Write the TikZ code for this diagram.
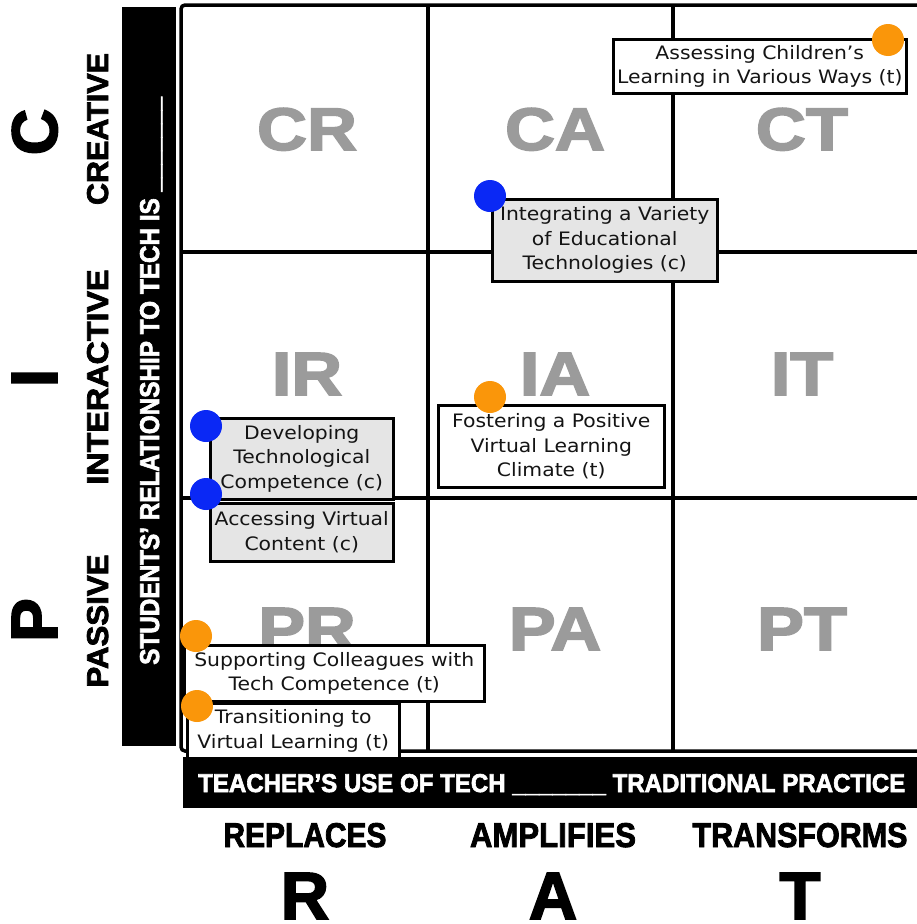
\documentclass[tikz,border=0pt]{standalone}
\usepackage{graphicx}
\usepackage{fontspec}
\setmainfont{DejaVu Sans}[FakeStretch=1.1]
\newfontfamily\hdfont{Liberation Sans}[BoldFeatures={FakeBold=2.5}]

\definecolor{cellgray}{RGB}{155,155,155}
\definecolor{boxgray}{RGB}{229,229,229}
\definecolor{txtdark}{RGB}{20,20,20}
\definecolor{dotblue}{RGB}{10,40,245}
\definecolor{dotorange}{RGB}{250,150,10}

% heading text squeezed to a given width and cap height
\newcommand{\fitcaps}[3]{\resizebox{#1pt}{#2pt}{\hdfont\bfseries #3}}
% big grey cell code
\newcommand{\cellcode}[1]{\resizebox{!}{42pt}{\scalebox{1.15}[1]{\hdfont\bfseries #1}}}

\tikzset{
  gridline/.style={line width=3.5pt, black},
  itembox/.style={draw=black, line width=2.5pt, anchor=north west, inner sep=0pt,
    align=center, text=txtdark, font=\fontsize{18.5}{24.5}\selectfont},
  techbox/.style={itembox, fill=boxgray},
  teachbox/.style={itembox, fill=white},
  dot/.style={circle, draw=none, minimum size=32pt, inner sep=0pt},
  cdot/.style={dot, fill=dotblue},
  tdot/.style={dot, fill=dotorange},
  cell/.style={anchor=base, inner sep=0pt, text=cellgray},
  head/.style={anchor=base, inner sep=0pt, text=black},
  barlabel/.style={inner sep=0pt, text=white}
}

\begin{document}
\begin{tikzpicture}[x=1pt, y=-1pt]
\useasboundingbox (0,0) rectangle (917,924);
\fill[white] (0,0) rectangle (917,924);

% grid
\draw[gridline, rounded corners=4pt] (917,5) -- (181,5) -- (181,751) -- (917,751);
\draw[gridline] (428,5) -- (428,751);
\draw[gridline] (673,5) -- (673,751);
\draw[gridline] (181,252) -- (917,252);
\draw[gridline] (181,498) -- (917,498);

% axis bars
\fill[black] (122,7) rectangle (176,746);
\fill[black] (183,757) rectangle (917,808);
\node[barlabel, anchor=base west, rotate=90] (ybar) at (159,665)
  {\fitcaps{568}{19}{STUDENTS’ RELATIONSHIP TO TECH IS \_\_\_\_\_\_\_}};
\node[barlabel, anchor=base west] (xbar) at (198,792)
  {\fitcaps{707}{18}{TEACHER’S USE OF TECH \_\_\_\_\_\_\_ TRADITIONAL PRACTICE}};

% row headings
\node[head, rotate=90] (creative) at (108,129) {\fitcaps{152}{21}{CREATIVE}};
\node[head, rotate=90] (interactive) at (108,377) {\fitcaps{215}{21}{INTERACTIVE}};
\node[head, rotate=90] (passive) at (108,621) {\fitcaps{133}{21}{PASSIVE}};
\node[head, rotate=90] (pc) at (57,132) {\resizebox{!}{45pt}{\hdfont\bfseries C}};
\node[head, rotate=90] (pi) at (57,378) {\resizebox{!}{45pt}{\hdfont\bfseries I}};
\node[head, rotate=90] (pp) at (57,620) {\resizebox{!}{45pt}{\hdfont\bfseries P}};

% column headings
\node[head] (replaces) at (305,847) {\fitcaps{163}{24}{REPLACES}};
\node[head] (amplifies) at (553,847) {\fitcaps{166}{24}{AMPLIFIES}};
\node[head] (transforms) at (800,847) {\fitcaps{215}{24}{TRANSFORMS}};
\node[head] (rr) at (305,919) {\resizebox{!}{46pt}{\hdfont\bfseries R}};
\node[head] (ra) at (553,919) {\resizebox{!}{46pt}{\hdfont\bfseries A}};
\node[head] (rt) at (800,919) {\resizebox{!}{46pt}{\hdfont\bfseries T}};

% cell codes
\node[cell] (cr) at (307,150) {\cellcode{CR}};
\node[cell] (ca) at (555,150) {\cellcode{CA}};
\node[cell] (ct) at (802,150) {\cellcode{CT}};
\node[cell] (ir) at (307,395) {\cellcode{IR}};
\node[cell] (ia) at (555,395) {\cellcode{IA}};
\node[cell] (it) at (802,395) {\cellcode{IT}};
\node[cell] (pr) at (307,650) {\cellcode{PR}};
\node[cell] (pa) at (555,650) {\cellcode{PA}};
\node[cell] (pt) at (802,650) {\cellcode{PT}};

% practices
\node[teachbox, minimum width=293pt, minimum height=54pt] (assess) at (612,38)
  {Assessing Children’s\\Learning in Various Ways (t)};
\node[techbox, minimum width=225pt, minimum height=82pt] (integ) at (491,198)
  {Integrating a Variety\\of Educational\\Technologies (c)};
\node[teachbox, minimum width=226pt, minimum height=82pt] (foster) at (437,404)
  {Fostering a Positive\\Virtual Learning\\Climate (t)};
\node[techbox, minimum width=183pt, minimum height=81pt] (develop) at (209,417)
  {Developing\\Technological\\Competence (c)};
\node[techbox, minimum width=183pt, minimum height=58pt] (access) at (209,502)
  {Accessing Virtual\\Content (c)};
\node[teachbox, minimum width=300pt, minimum height=56pt] (support) at (183,644)
  {Supporting Colleagues with\\Tech Competence (t)};
\node[teachbox, minimum width=212pt, minimum height=55pt] (trans) at (186,702)
  {Transitioning to\\Virtual Learning (t)};

% markers
\node[tdot] (dassess) at (888,40) {};
\node[cdot] (dinteg) at (490,196) {};
\node[tdot] (dfoster) at (490,397) {};
\node[cdot] (ddevelop) at (206,426) {};
\node[cdot] (daccess) at (206,494) {};
\node[tdot] (dsupport) at (196,636) {};
\node[tdot] (dtrans) at (197,706) {};
\end{tikzpicture}
\end{document}
